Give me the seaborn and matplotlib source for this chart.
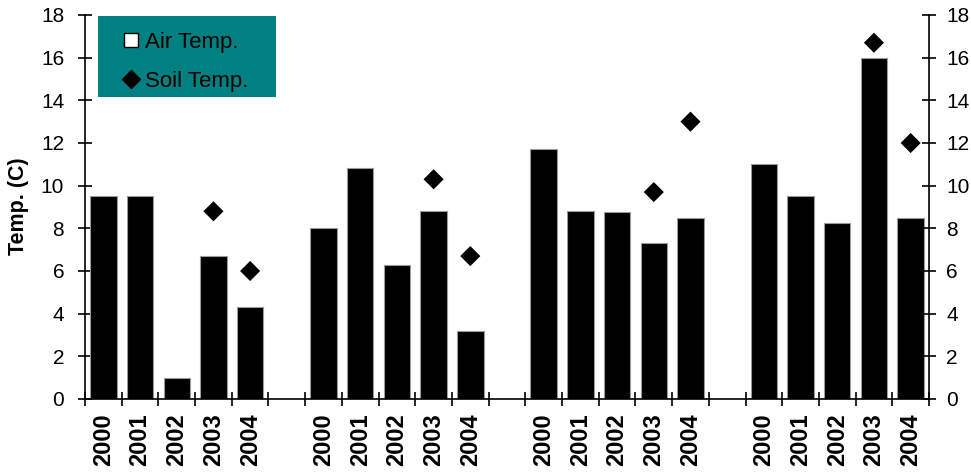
import matplotlib
matplotlib.use("Agg")
import matplotlib.pyplot as plt
from matplotlib.lines import Line2D
from matplotlib.patches import Rectangle
import numpy as np
import pandas as pd
import seaborn as sns

# Yearly mean temperatures for four sites, 2000-2004
years = ["2000", "2001", "2002", "2003", "2004"]
air_site1 = [9.5, 9.5, 1.0, 6.7, 4.3]
air_site2 = [8.0, 10.85, 6.3, 8.8, 3.2]
air_site3 = [11.7, 8.8, 8.75, 7.3, 8.5]
air_site4 = [11.0, 9.5, 8.25, 16.0, 8.5]
soil_site1 = [None, None, None, 8.8, 6.0]
soil_site2 = [None, None, None, 10.3, 6.7]
soil_site3 = [None, None, None, 9.7, 13.0]
soil_site4 = [None, None, None, 16.7, 12.0]

air_sets = [air_site1, air_site2, air_site3, air_site4]
soil_sets = [soil_site1, soil_site2, soil_site3, soil_site4]

# one empty slot between consecutive sites
rows = []
for g, (air, soil) in enumerate(zip(air_sets, soil_sets)):
    for i, yr in enumerate(years):
        rows.append({"pos": g * 6 + i, "year": yr, "air": air[i],
                     "soil": np.nan if soil[i] is None else soil[i]})
df = pd.DataFrame(rows)

sns.set_theme(style="white")
plt.rcParams["font.family"] = ["Liberation Sans", "DejaVu Sans"]
for key in ["text.color", "axes.labelcolor", "xtick.color", "ytick.color"]:
    plt.rcParams[key] = "black"

W, H = 971, 472
L, R, T, B = 85, 929, 15, 399
fig = plt.figure(figsize=(W / 100, H / 100), dpi=100)
ax = fig.add_axes([L / W, 1 - B / H, (R - L) / W, (B - T) / H])

sns.barplot(data=df, x="pos", y="air", native_scale=True, width=0.72,
            color="black", saturation=1, edgecolor="#9a9a9a", linewidth=0.8,
            ax=ax, zorder=2)
sns.scatterplot(data=df.dropna(subset=["soil"]), x="pos", y="soil",
                marker="D", s=105, color="black", edgecolor="none",
                ax=ax, zorder=3, legend=False)

n_slots = 23
ax.set_xlim(-0.5, n_slots - 0.5)
ax.set_ylim(0, 18)
ax.set_yticks(np.arange(0, 19, 2))
ax.set_xticks(np.arange(-0.5, n_slots, 1.0))
ax.set_xticklabels([])
ax.set_xticks(df["pos"].to_numpy(), minor=True)
ax.set_xticklabels(df["year"].tolist(), minor=True, rotation=90,
                   fontweight="bold", fontsize=17)
ax.tick_params(axis="x", which="major", direction="inout", length=10,
               width=1.2, color="black", bottom=True)
ax.tick_params(axis="x", which="minor", length=0, pad=10, bottom=True)
ax.tick_params(axis="y", direction="inout", length=10, width=1.2,
               color="black", left=True, labelsize=15, pad=10)
ax.set_xlabel("")
ax.set_ylabel("Temp. (C)", fontsize=15.5, fontweight="bold")
ax.yaxis.set_label_coords(-0.066, 0.503)

for side in ["left", "bottom"]:
    ax.spines[side].set_color("black")
    ax.spines[side].set_linewidth(1.2)
ax.spines["top"].set_visible(False)
ax.spines["right"].set_visible(False)

ax2 = ax.twinx()
ax2.set_ylim(0, 18)
ax2.set_yticks(np.arange(0, 19, 2))
ax2.tick_params(axis="y", direction="inout", length=10, width=1.2,
                color="black", right=True, labelsize=15, pad=7.5)
ax2.spines["right"].set_color("black")
ax2.spines["right"].set_linewidth(1.2)
for side in ["top", "left", "bottom"]:
    ax2.spines[side].set_visible(False)
ax2.grid(False)
ax.grid(False)

# teal legend panel
def ax_x(px):
    return (px - L) / (R - L)

def ax_y(py):
    return (B - py) / (B - T)

panel = Rectangle((ax_x(98), ax_y(97)), ax_x(276) - ax_x(98),
                  ax_y(16) - ax_y(97), transform=ax.transAxes,
                  facecolor="#008080", edgecolor="none", zorder=4,
                  clip_on=False)
ax.add_patch(panel)

handles = [
    Line2D([], [], marker="s", linestyle="none", markersize=10,
           markerfacecolor="white", markeredgecolor="black",
           markeredgewidth=1.0),
    Line2D([], [], marker="D", linestyle="none", markersize=9.5,
           markerfacecolor="black", markeredgecolor="black"),
]
leg = ax.legend(handles, ["Air Temp.", "Soil Temp."], loc="upper left",
                bbox_to_anchor=(ax_x(123), ax_y(32)), borderaxespad=0,
                fontsize=16, frameon=False, borderpad=0,
                labelspacing=0.8, handlelength=0.7, handletextpad=0.3)
leg.set_zorder(5)

fig.savefig("out.png", dpi=100)
